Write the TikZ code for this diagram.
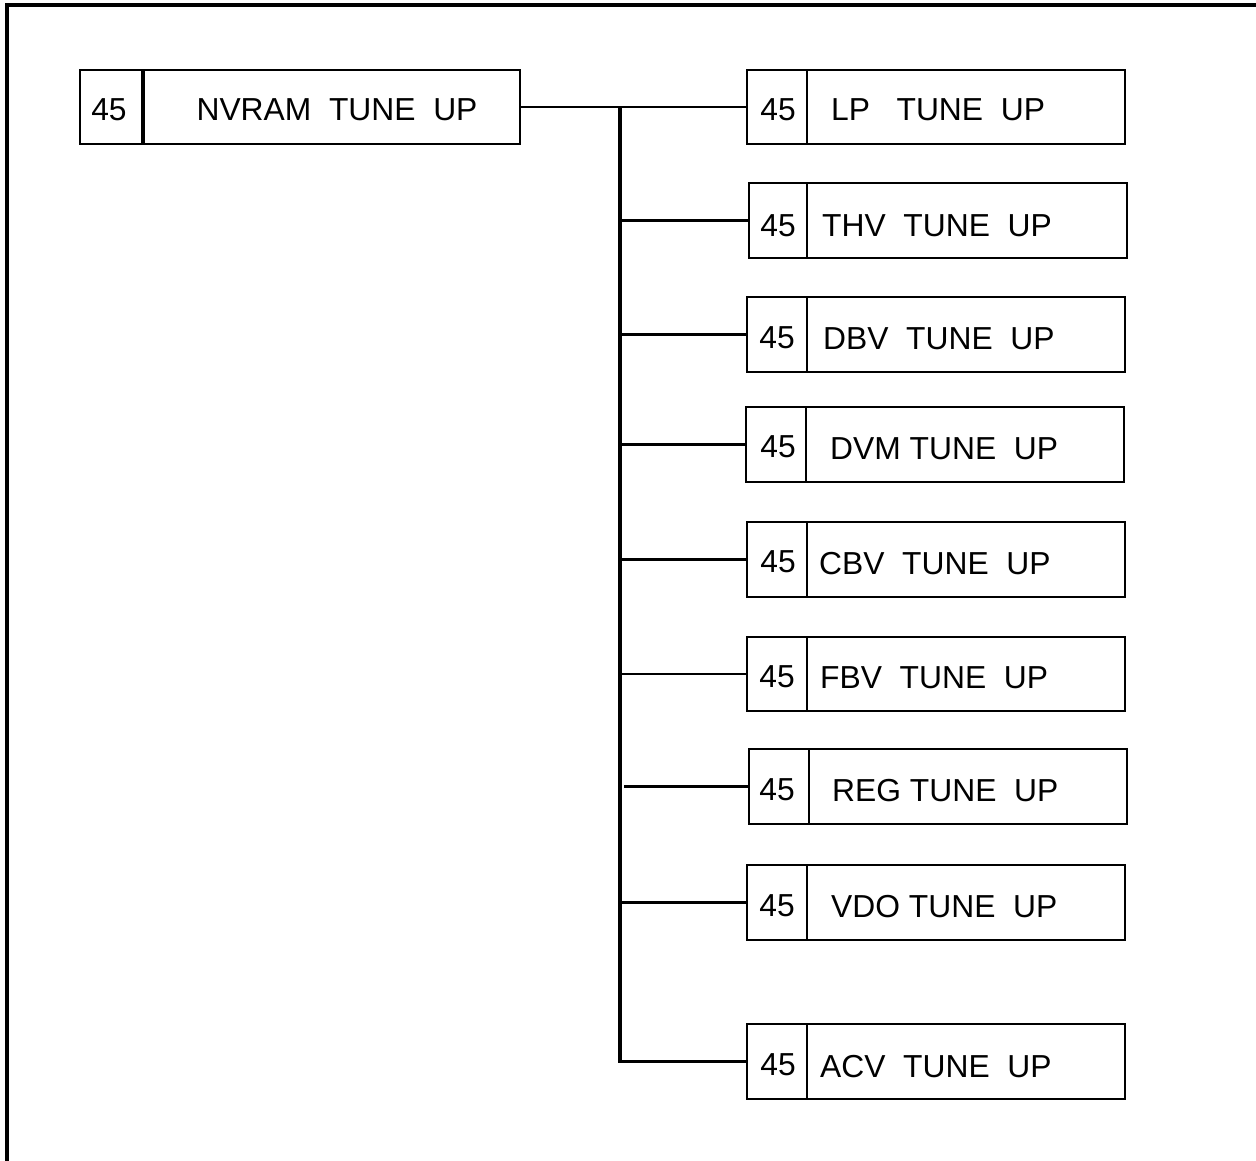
\documentclass[tikz,border=0pt]{standalone}
\usepackage{fontspec}
\setmainfont{Liberation Sans}
\begin{document}
\begin{tikzpicture}[x=1pt,y=-1pt,
  box/.style={draw, line width=2.6pt, rectangle, inner sep=0pt, outer sep=0pt},
  lbl/.style={inner sep=0pt, font=\fontsize{31.8}{36}\selectfont},
  conn/.style={line width=2.4pt},
  trunkline/.style={line width=3.2pt}]
\useasboundingbox (0,0) rectangle (1256,1161);
% frame (left and top only)
\draw[line width=3.4pt] (7,1161) -- (7,5) -- (1256,5);
% main box
\node[box, minimum width=440pt, minimum height=74pt] (nv) at (300,107) {};
\draw[line width=3.6pt] (143,70) -- (143,144);
\node[lbl, anchor=base] (nv45) at (109,121) {45};
\node[lbl, anchor=base] (nvt) at (337,121) {NVRAM~~TUNE~~UP};
% children
\node[box, minimum width=378pt, minimum height=74pt] (lp) at (936,107) {};
\draw[line width=1.8pt] (807,70) -- (807,144);
\node[lbl, anchor=base] (lp45) at (778,121) {45};
\node[lbl, anchor=base west] (lpt) at (831,121) {LP~~~TUNE~~UP};

\node[box, minimum width=378pt, minimum height=75pt] (thv) at (938,220.5) {};
\draw[line width=1.8pt] (807,183) -- (807,258);
\node[lbl, anchor=base] (thv45) at (778,237) {45};
\node[lbl, anchor=base west] (thvt) at (822,237) {THV~~TUNE~~UP};

\node[box, minimum width=378pt, minimum height=75pt] (dbv) at (936,334.5) {};
\draw[line width=1.8pt] (807,297) -- (807,372);
\node[lbl, anchor=base] (dbv45) at (777,348) {45};
\node[lbl, anchor=base west] (dbvt) at (823,349) {DBV~~TUNE~~UP};

\node[box, minimum width=378pt, minimum height=75pt] (dvm) at (935,444.5) {};
\draw[line width=1.8pt] (806,407) -- (806,482);
\node[lbl, anchor=base] (dvm45) at (778,457) {45};
\node[lbl, anchor=base west] (dvmt) at (830,459) {DVM TUNE~~UP};

\node[box, minimum width=378pt, minimum height=75pt] (cbv) at (936,559.5) {};
\draw[line width=1.8pt] (807,522) -- (807,597);
\node[lbl, anchor=base] (cbv45) at (778,572) {45};
\node[lbl, anchor=base west] (cbvt) at (819,574) {CBV~~TUNE~~UP};

\node[box, minimum width=378pt, minimum height=74pt] (fbv) at (936,674) {};
\draw[line width=1.8pt] (807,637) -- (807,711);
\node[lbl, anchor=base] (fbv45) at (777,687) {45};
\node[lbl, anchor=base west] (fbvt) at (820,688) {FBV~~TUNE~~UP};

\node[box, minimum width=378pt, minimum height=75pt] (reg) at (938,786.5) {};
\draw[line width=1.8pt] (809,749) -- (809,824);
\node[lbl, anchor=base] (reg45) at (777,800) {45};
\node[lbl, anchor=base west] (regt) at (832,801) {REG TUNE~~UP};

\node[box, minimum width=378pt, minimum height=75pt] (vdo) at (936,902.5) {};
\draw[line width=1.8pt] (807,865) -- (807,940);
\node[lbl, anchor=base] (vdo45) at (777,916) {45};
\node[lbl, anchor=base west] (vdot) at (831,917) {VDO TUNE~~UP};

\node[box, minimum width=378pt, minimum height=75pt] (acv) at (936,1061.5) {};
\draw[line width=1.8pt] (807,1024) -- (807,1099);
\node[lbl, anchor=base] (acv45) at (778,1075) {45};
\node[lbl, anchor=base west] (acvt) at (820,1077) {ACV~~TUNE~~UP};

% connectors
\coordinate (ttop) at (620,107);
\draw[conn] (nv.east) -- (lp.west);
\draw[trunkline] (ttop) |- (acv.west);
\draw[conn] (620,220.5) -- (thv.west);
\draw[conn] (620,334.5) -- (dbv.west);
\draw[conn] (620,444.5) -- (dvm.west);
\draw[conn] (620,559.5) -- (cbv.west);
\draw[conn] (620,674) -- (fbv.west);
\draw[conn] (624,786.5) -- (reg.west);
\draw[conn] (622,902.5) -- (vdo.west);
\end{tikzpicture}
\end{document}
